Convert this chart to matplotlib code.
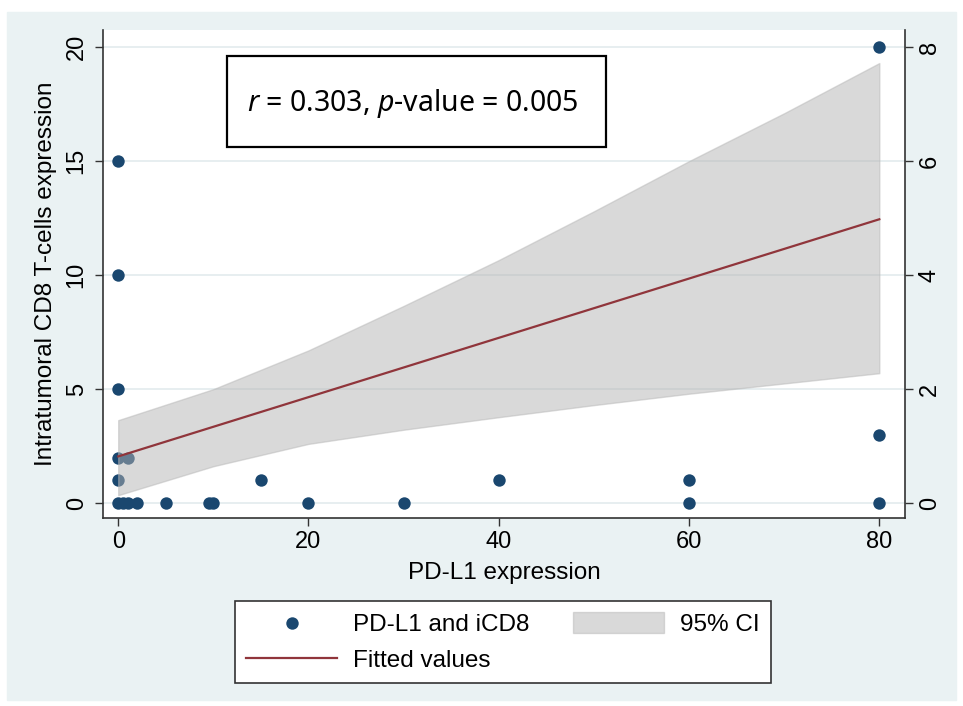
import matplotlib
matplotlib.use("Agg")
import matplotlib.pyplot as plt
from matplotlib.patches import Rectangle

# PD-L1 expression vs intratumoral CD8
pdl1 = [0, 0.5, 1, 2, 5, 9.5, 10, 20, 30, 60, 80,
        0, 15, 40, 60,
        0, 1, 0, 0, 0, 80, 80]
icd8 = [0, 0, 0, 0, 0, 0, 0, 0, 0, 0, 0,
        1, 1, 1, 1,
        2, 2, 5, 10, 15, 3, 20]

# fitted line and its 95% CI band
fit_x = [0, 80]
fit_y = [2.05, 12.45]
ci_x = [0, 10, 20, 30, 40, 50, 60, 70, 80]
ci_hi = [3.64, 5.0, 6.7, 8.65, 10.66, 12.8, 15.0, 17.1, 19.3]
ci_lo = [0.35, 1.62, 2.6, 3.22, 3.77, 4.3, 4.8, 5.25, 5.7]

xticks = [0, 20, 40, 60, 80]
yticks = [0, 5, 10, 15, 20]
yticks_right = [0, 2, 4, 6, 8]

navy = "#1a476f"
maroon = "#90353b"
bg = "#eaf2f3"

plt.rcParams["font.family"] = ["Liberation Sans", "DejaVu Sans"]
plt.rcParams["mathtext.fontset"] = "custom"
plt.rcParams["mathtext.rm"] = "Noto Sans"
plt.rcParams["mathtext.it"] = "Noto Sans:italic"

W, H = 963, 706
fig = plt.figure(figsize=(W / 100, H / 100), dpi=100)
fig.patches.append(Rectangle((7 / W, 1 - 700 / H), 949 / W, 688 / H,
                             transform=fig.transFigure, color=bg, zorder=-10))

ax = fig.add_axes([103 / W, 1 - 518 / H, 802 / W, 488 / H])
ax.set_xlim(-1.6, 82.7)
ax.set_ylim(-0.65, 20.75)

sc = ax.scatter(pdl1, icd8, s=80, color=navy, zorder=2, linewidths=0)
band = ax.fill_between(ci_x, ci_lo, ci_hi, facecolor="#b4b4b4", alpha=0.5,
                       edgecolor="#b8b8b8", linewidth=1, zorder=3)
ln, = ax.plot(fit_x, fit_y, color=maroon, lw=1.6, zorder=4)

ax.set_xticks(xticks)
ax.set_yticks(yticks)
ax.grid(axis="y", color="#e3ebee", lw=1.2)
ax.set_axisbelow(True)
ax.tick_params(axis="x", labelsize=17, length=6, width=1, color="#333333", pad=3)
ax.tick_params(axis="y", labelsize=17, length=6, width=1, color="#333333", pad=5,
               labelrotation=90)
for t in ax.get_yticklabels():
    t.set_va("center")
ax.set_xlabel("PD-L1 expression", fontsize=17.5, labelpad=7)
ax.set_ylabel("Intratumoral CD8 T-cells expression", fontsize=17.5, labelpad=6)
ax.spines["top"].set_visible(False)
ax.spines["right"].set_visible(False)
for s in ["left", "bottom"]:
    ax.spines[s].set_color("#333333")
    ax.spines[s].set_linewidth(1.2)

ax2 = ax.twinx()
ax2.set_ylim(-0.65 / 2.5, 20.75 / 2.5)
ax2.set_yticks(yticks_right)
ax2.tick_params(axis="y", labelsize=17, length=6, width=1, color="#333333",
                pad=4, labelrotation=90)
for t in ax2.get_yticklabels():
    t.set_va("center")
for s in ["top", "left", "bottom"]:
    ax2.spines[s].set_visible(False)
ax2.spines["right"].set_color("#333333")
ax2.spines["right"].set_linewidth(1.2)

# annotation box
fig.patches.append(Rectangle((227 / W, 1 - 147 / H), 379 / W, 91 / H,
                             transform=fig.transFigure, facecolor="white",
                             edgecolor="black", lw=1.6, zorder=5))
fig.text(247 / W, 1 - 104 / H, "$r$ = 0.303, $p$-value = 0.005",
         family="Noto Sans", fontsize=20.5, va="center", ha="left", zorder=6)

leg = fig.legend([sc, ln, band], ["PD-L1 and iCD8", "Fitted values", "95% CI"],
                 ncol=2, loc="center", bbox_to_anchor=(503 / W, 1 - 642 / H),
                 fontsize=17.5, frameon=True, fancybox=False, framealpha=1,
                 edgecolor="#333333", handlelength=3.75, handleheight=1.0,
                 handletextpad=0.65, columnspacing=1.8, labelspacing=0.5,
                 scatterpoints=1, borderpad=0.45)
leg.get_frame().set_linewidth(1.2)

fig.savefig("out.png", dpi=100)
